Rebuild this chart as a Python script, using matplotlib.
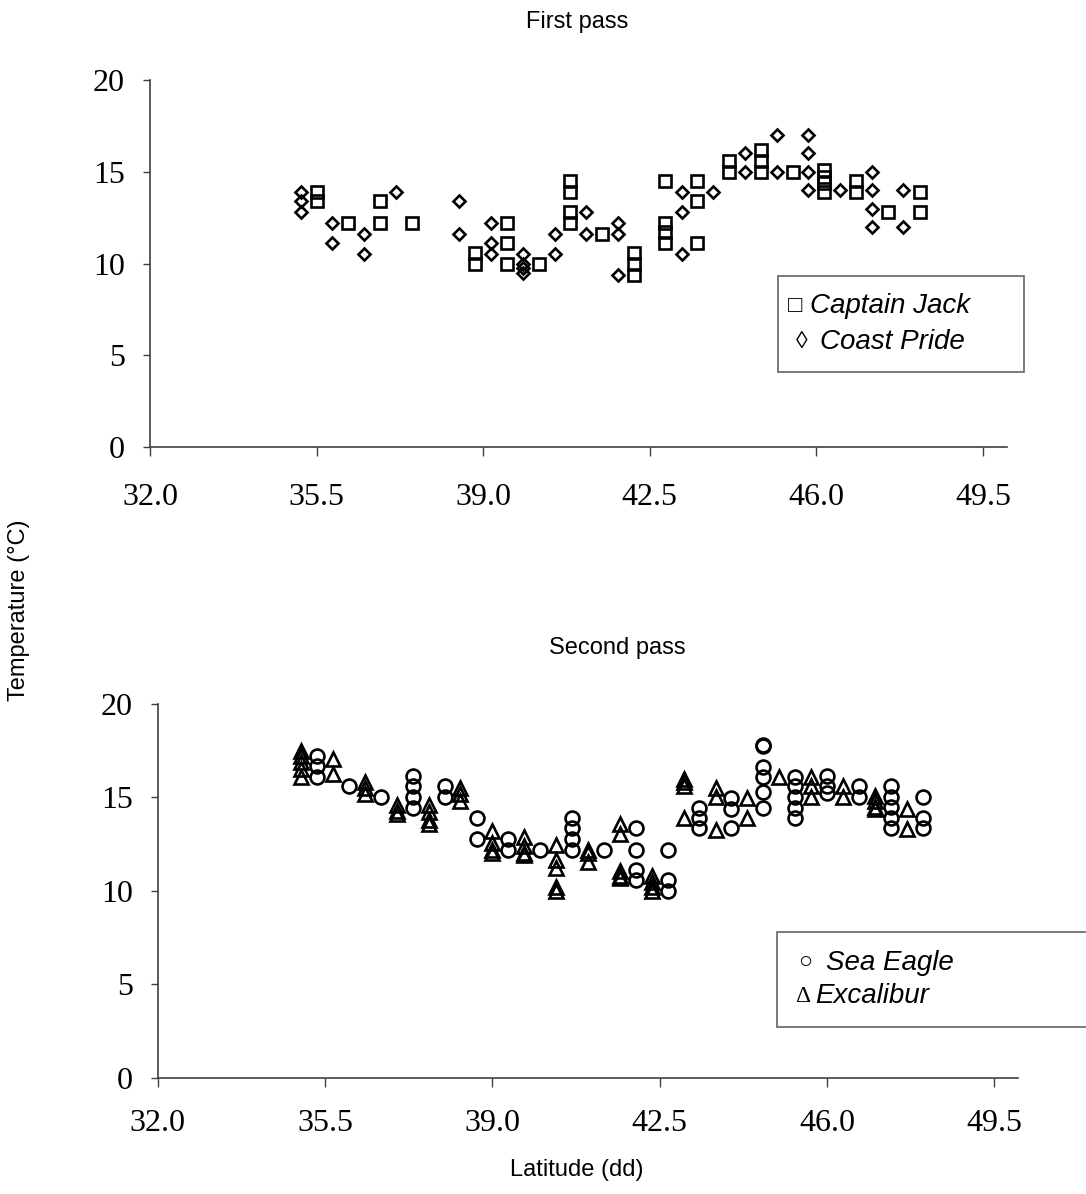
import matplotlib
matplotlib.use("Agg")
import matplotlib.pyplot as plt
from matplotlib.patches import Rectangle

# ---------------- data ----------------
# First pass
jack_lat = [35.5, 35.5, 36.17, 36.83, 36.83, 37.5, 38.83, 38.83, 39.5, 39.5, 39.5, 40.17,
            40.83, 40.83, 40.83, 40.83, 41.5, 42.17, 42.17, 42.17, 42.83, 42.83, 42.83, 42.83,
            43.5, 43.5, 43.5, 44.17, 44.17, 44.83, 44.83, 44.83, 45.5, 46.17, 46.17, 46.17, 46.17,
            46.83, 46.83, 47.5, 48.17, 48.17]
jack_t = [13.9, 13.4, 12.2, 13.4, 12.2, 12.2, 10.6, 10.0, 12.2, 11.1, 10.0, 10.0,
          14.5, 13.9, 12.8, 12.2, 11.6, 10.6, 10.0, 9.4, 14.5, 12.2, 11.7, 11.1,
          14.5, 13.4, 11.1, 15.6, 15.0, 16.2, 15.6, 15.0, 15.0, 15.1, 14.7, 14.4, 13.9,
          14.5, 13.9, 12.8, 13.9, 12.8]

pride_lat = [35.17, 35.17, 35.17, 35.83, 35.83, 36.5, 36.5, 37.17, 38.5, 38.5, 39.17, 39.17, 39.17,
             39.83, 39.83, 39.83, 39.83, 40.5, 40.5, 41.17, 41.17, 41.83, 41.83, 41.83,
             43.17, 43.17, 43.17, 43.83, 44.5, 44.5, 45.17, 45.17, 45.83, 45.83, 45.83, 45.83,
             46.5, 47.17, 47.17, 47.17, 47.17, 47.83, 47.83]
pride_t = [13.9, 13.4, 12.8, 12.2, 11.1, 11.6, 10.5, 13.9, 13.4, 11.6, 12.2, 11.1, 10.5,
           10.5, 10.0, 9.75, 9.5, 11.6, 10.5, 12.8, 11.6, 12.2, 11.6, 9.4,
           13.9, 12.8, 10.5, 13.9, 16.0, 15.0, 17.0, 15.0, 17.0, 16.0, 15.0, 14.0,
           14.0, 15.0, 14.0, 13.0, 12.0, 14.0, 12.0]

# Second pass
eagle_lat = [35.33, 35.33, 35.33, 36.0, 36.67, 37.33, 37.33, 37.33, 37.33, 38.0, 38.0,
             38.67, 38.67, 39.33, 39.33, 40.0, 40.67, 40.67, 40.67, 40.67, 41.33,
             42.0, 42.0, 42.0, 42.0, 42.67, 42.67, 42.67, 43.33, 43.33, 43.33,
             44.0, 44.0, 44.0, 44.67, 44.67, 44.67, 44.67, 44.67, 44.67,
             45.33, 45.33, 45.33, 45.33, 45.33, 46.0, 46.0, 46.0, 46.67, 46.67,
             47.33, 47.33, 47.33, 47.33, 47.33, 48.0, 48.0, 48.0]
eagle_t = [17.2, 16.7, 16.1, 15.6, 15.0, 16.15, 15.6, 15.0, 14.45, 15.6, 15.0,
           13.9, 12.8, 12.8, 12.2, 12.2, 13.9, 13.35, 12.75, 12.2, 12.2,
           13.35, 12.2, 11.1, 10.6, 12.2, 10.6, 10.0, 14.45, 13.9, 13.35,
           14.95, 14.4, 13.35, 17.75, 17.8, 16.65, 16.1, 15.3, 14.45,
           16.1, 15.6, 15.0, 14.45, 13.9, 16.15, 15.6, 15.25, 15.6, 15.0,
           15.6, 15.0, 14.5, 13.9, 13.35, 15.0, 13.9, 13.35]

excal_lat = [35.0, 35.0, 35.0, 35.0, 35.0, 35.67, 35.67, 36.33, 36.33, 36.33,
             37.0, 37.0, 37.0, 37.67, 37.67, 37.67, 37.67, 38.33, 38.33, 38.33,
             39.0, 39.0, 39.0, 39.0, 39.67, 39.67, 39.67, 39.67,
             40.33, 40.33, 40.33, 40.33, 40.33, 41.0, 41.0, 41.0,
             41.67, 41.67, 41.67, 41.67, 41.67, 42.33, 42.33, 42.33, 42.33,
             43.0, 43.0, 43.0, 43.0, 43.67, 43.67, 43.67, 44.33, 44.33, 45.0,
             45.67, 45.67, 45.67, 46.33, 46.33, 47.0, 47.0, 47.0, 47.0, 47.67, 47.67]
excal_t = [17.5, 17.2, 16.9, 16.5, 16.1, 17.05, 16.25, 15.8, 15.5, 15.2,
           14.6, 14.3, 14.1, 14.6, 14.2, 13.8, 13.6, 15.5, 15.2, 14.8,
           13.2, 12.55, 12.2, 12.0, 12.9, 12.4, 12.0, 11.9,
           12.45, 11.65, 11.2, 10.2, 10.0, 12.2, 12.0, 11.55,
           13.6, 13.05, 11.05, 10.8, 10.7, 10.8, 10.5, 10.2, 10.0,
           16.0, 15.8, 15.6, 13.9, 15.5, 15.0, 13.25, 14.95, 13.9, 16.1,
           16.1, 15.6, 15.0, 15.6, 15.0, 15.05, 14.8, 14.5, 14.4, 14.4, 13.3]

x_ticks = [32.0, 35.5, 39.0, 42.5, 46.0, 49.5]
y_ticks = [0, 5, 10, 15, 20]

# ---------------- figure ----------------
W, H = 1086, 1194
fig = plt.figure(figsize=(W / 100, H / 100), dpi=100)

def fx(px):
    return px / W

def fy(py):
    return 1 - py / H

ax1 = fig.add_axes([fx(150), fy(447.3), fx(1006.7) - fx(150), fy(80) - fy(447.3)])
ax2 = fig.add_axes([fx(157.7), fy(1077.7), fx(1018.3) - fx(157.7), fy(704) - fy(1077.7)])

spine_col = '#404040'
for ax, xpad in ((ax1, 19), (ax2, 16)):
    ax.set_xlim(32, 50)
    ax.set_ylim(0, 20)
    ax.set_xticks(x_ticks)
    ax.set_xticklabels([f"{v:.1f}" for v in x_ticks])
    ax.set_yticks(y_ticks)
    for s in ('top', 'right'):
        ax.spines[s].set_visible(False)
    for s in ('left', 'bottom'):
        ax.spines[s].set_color(spine_col)
        ax.spines[s].set_linewidth(1.2)
    ax.tick_params(axis='x', direction='out', length=6.5, width=1.0, color=spine_col, pad=xpad,
                   labelsize=23)
    ax.tick_params(axis='y', direction='out', length=5, width=1.0, color=spine_col, pad=13,
                   labelsize=23)
    for lab in ax.get_xticklabels() + ax.get_yticklabels():
        lab.set_fontfamily('Liberation Serif')
    ax.set_facecolor('none')

mk = dict(linestyle='none', markerfacecolor='none', markeredgecolor='black', clip_on=False)
ax1.plot(jack_lat, jack_t, marker='s', markersize=8.5, markeredgewidth=1.9, **mk)
ax1.plot(pride_lat, pride_t, marker='D', markersize=6.2, markeredgewidth=1.9, **mk)
ax2.plot(eagle_lat, eagle_t, marker='o', markersize=10, markeredgewidth=1.9, **mk)
ax2.plot(excal_lat, excal_t, marker='^', markersize=10.5, markeredgewidth=1.9, **mk)

sans = 'Liberation Sans'
fig.text(fx(577), fy(22), 'First pass', ha='center', va='center', fontsize=17, family=sans)
fig.text(fx(617), fy(648), 'Second pass', ha='center', va='center', fontsize=17, family=sans)
fig.text(fx(19), fy(610), 'Temperature (°C)', ha='center', va='center', rotation=90,
         fontsize=17, family=sans)
fig.text(fx(577), fy(1170), 'Latitude (dd)', ha='center', va='center', fontsize=17, family=sans)

# legend boxes
def box(x0, y0, x1, y1):
    r = Rectangle((fx(x0), fy(y1)), fx(x1) - fx(x0), fy(y0) - fy(y1), transform=fig.transFigure,
                  facecolor='white', edgecolor='#707070', linewidth=1.3, clip_on=False)
    fig.add_artist(r)

box(778, 276, 1024, 372)
box(777, 932, 1092, 1027)

sym_font = ['Liberation Serif', 'DejaVu Sans']
legend_items = [
    (788, 810, 306, '\u25a1', 'Captain Jack'),
    (796, 820, 342, '\u25ca', 'Coast Pride'),
    (798, 826, 963, '\u25cb', 'Sea Eagle'),
    (795, 815, 996, '\u0394', 'Excalibur'),
]
for xs, xt, y, sym, name in legend_items:
    fig.text(fx(xs), fy(y), sym, ha='left', va='center', fontsize=17, family=sym_font)
    fig.text(fx(xt), fy(y), name, ha='left', va='center', fontsize=20, family=sans,
             style='italic')

fig.savefig('out.png', dpi=100)
